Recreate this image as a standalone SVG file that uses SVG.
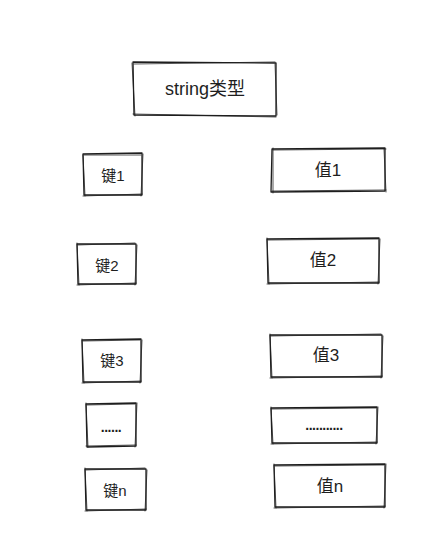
<svg xmlns="http://www.w3.org/2000/svg" width="424" height="541" viewBox="0 0 424 541">
<style>
.b{fill:none;stroke:#1e1e1e;stroke-width:1.3;stroke-linecap:round;stroke-linejoin:round}
.b2{fill:none;stroke:#1e1e1e;stroke-width:0.9;stroke-linecap:round;opacity:0.85}
.t{font-family:"Liberation Sans","Noto Sans CJK SC",sans-serif;fill:#1e1e1e;text-anchor:middle;dominant-baseline:central}
.d{font-weight:bold;letter-spacing:-0.5px}
</style>
<rect width="424" height="541" fill="#ffffff"/>
<g id="title">
<path class="b" d="M133 62 L276 63 L276 116 L134 115 Z"/>
<path class="b2" d="M134 64 L275 62 M275 64 L277 115 M276 117 L133 114 M135 116 L132 63"/>
<text class="t" x="205" y="89" font-size="18">string类型</text>
</g>
<g id="k1">
<path class="b" d="M83 154 L142 153 L142 195 L84 195 Z"/>
<path class="b2" d="M84 155 L141 155 M143 154 L141 196 M142 194 L83 196 M85 196 L83 155"/>
<text class="t" x="113" y="175" font-size="15">键1</text>
</g>
<g id="v1">
<path class="b" d="M272 149 L385 148 L385 191 L271 192 Z"/>
<path class="b2" d="M273 150 L386 149 M384 149 L386 192 M386 190 L272 191 M273 193 L273 148"/>
<text class="t" x="328" y="170" font-size="17">值1</text>
</g>
<g id="k2">
<path class="b" d="M77 244 L136 244 L136 284 L78 284 Z"/>
<path class="b2" d="M78 245 L135 243 M137 245 L135 285 M136 283 L77 285 M79 285 L77 243"/>
<text class="t" x="107" y="265" font-size="15">键2</text>
</g>
<g id="v2">
<path class="b" d="M267 239 L379 238 L379 283 L268 283 Z"/>
<path class="b2" d="M268 240 L378 239 M380 239 L378 284 M379 282 L267 284 M269 284 L267 238"/>
<text class="t" x="323" y="260" font-size="17">值2</text>
</g>
<g id="k3">
<path class="b" d="M82 340 L141 339 L141 382 L83 382 Z"/>
<path class="b2" d="M83 341 L140 340 M142 340 L140 383 M141 381 L82 383 M84 383 L82 339"/>
<text class="t" x="112" y="360" font-size="15">键3</text>
</g>
<g id="v3">
<path class="b" d="M270 335 L382 335 L382 377 L271 377 Z"/>
<path class="b2" d="M271 336 L381 334 M383 336 L381 378 M382 376 L270 378 M272 378 L270 334"/>
<text class="t" x="326" y="355" font-size="17">值3</text>
</g>
<g id="kdots">
<path class="b" d="M86 404 L136 403 L136 446 L87 447 Z"/>
<path class="b2" d="M87 405 L135 404 M137 403 L135 447 M136 445 L86 446 M88 447 L86 403"/>
<text class="t d" x="111" y="427" font-size="14">......</text>
</g>
<g id="vdots">
<path class="b" d="M271 408 L377 407 L377 443 L272 443 Z"/>
<path class="b2" d="M272 409 L376 408 M378 407 L376 444 M377 442 L271 444 M273 444 L271 407"/>
<text class="t d" x="324" y="425" font-size="14">...........</text>
</g>
<g id="kn">
<path class="b" d="M85 469 L146 469 L146 510 L86 510 Z"/>
<path class="b2" d="M86 470 L145 468 M147 470 L145 511 M146 509 L85 511 M87 511 L85 468"/>
<text class="t" x="115" y="490" font-size="15">键n</text>
</g>
<g id="vn">
<path class="b" d="M274 465 L385 464 L385 507 L275 507 Z"/>
<path class="b2" d="M275 466 L384 465 M386 464 L384 508 M385 506 L274 508 M276 508 L274 464"/>
<text class="t" x="330" y="486" font-size="17">值n</text>
</g>
<g id="connectors"></g>
</svg>
